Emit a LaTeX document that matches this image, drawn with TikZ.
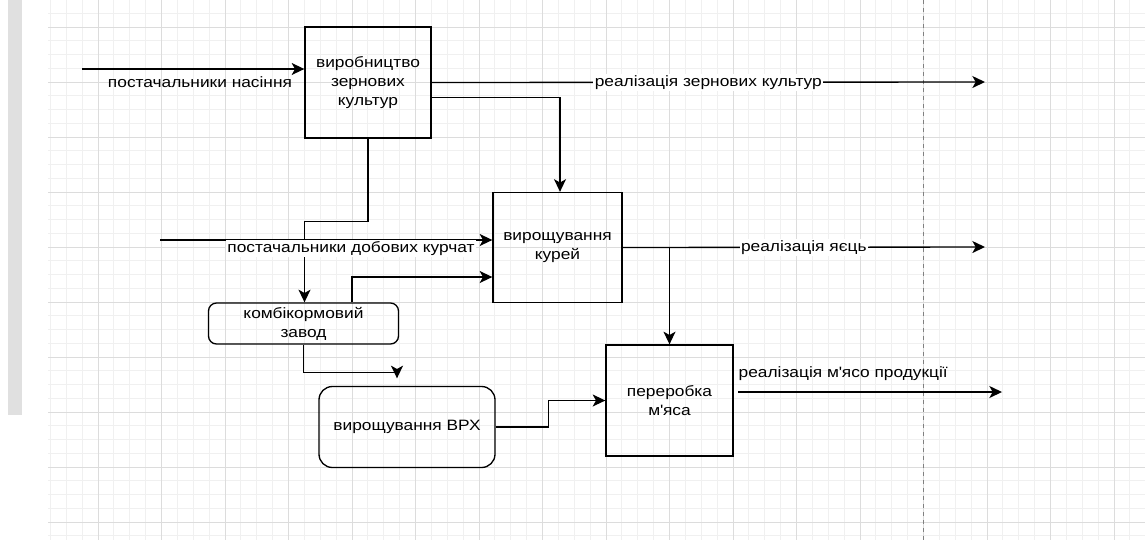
\documentclass[tikz,border=0pt]{standalone}
\usepackage{fontspec}
\setmainfont{Liberation Sans}[FakeStretch=1.155]
\usetikzlibrary{arrows.meta,calc}
\definecolor{gridmajor}{RGB}{220,220,220}
\definecolor{gridminor}{RGB}{240,240,240}
\tikzstyle{block}=[draw,rectangle,align=center,inner sep=2pt]

\begin{document}
\begin{tikzpicture}[x=0.75pt,y=-0.75pt,line width=1pt,
  font=\fontsize{11.25}{14.25}\selectfont]
\tikzstyle{plant}=[block,rounded corners=6pt]
\tikzstyle{flow}=[draw,-{Stealth[length=9.5pt,width=9pt,inset=2.5pt]}]
\tikzstyle{lbl}=[fill=white,inner sep=1pt]
\useasboundingbox (0,0) rectangle (1145,540);
% background grid
\begin{scope}
  \clip (48,0) rectangle (1145,540);
  \foreach \i in {0,...,70}
    \draw[gridminor,line width=0.75pt] ({34.5+15.875*\i},0) -- ++(0,540);
  \foreach \j in {0,...,42}
    \draw[gridminor,line width=0.75pt] (48,{-28+13.75*\j}) -- ++(1100,0);
  \foreach \i in {0,...,17}
    \draw[gridmajor,line width=0.75pt] ({34.5+63.5*\i},0) -- ++(0,540);
  \foreach \j in {0,...,10}
    \draw[gridmajor,line width=0.75pt] (48,{-28+55*\j}) -- ++(1100,0);
\end{scope}
\draw[gray,dashed,line width=0.75pt] (923.5,0) -- (923.5,540);
\fill[black!12] (8,0) rectangle (22,415);

% blocks
\node[block,minimum width=94.5pt,minimum height=83.25pt] (grain) at (368,82.5)
  {виробництво\\зернових\\культур};
\node[block,minimum width=96.75pt,minimum height=82.5pt] (chick) at (557.5,247.5)
  {вирощування\\курей};
\node[block,minimum width=95.25pt,minimum height=83.25pt] (meat) at (669.5,400.5)
  {переробка\\м\textquotesingle яса};
\node[plant,minimum width=142.5pt,minimum height=30.75pt] (mill) at (303.5,323.5)
  {комбікормовий\\завод};
\node[plant,rounded corners=10pt,minimum width=132pt,minimum height=60.75pt]
  (cattle) at (407,427) {вирощування ВРХ};

% free ends
\coordinate (seeds) at (82,69);
\coordinate (grainsale) at (985,82);
\coordinate (chicks) at (160,240);
\coordinate (eggsale) at (985,247);
\coordinate (meatout) at (738,392);
\coordinate (meatsale) at (1002,392);
\coordinate (fork) at (meat.north |- chick.east);

% connectors
\draw[flow] (seeds) -- (seeds -| grain.west);
\node (seedlbl) at (200,82.5) {постачальники насіння};
\draw[flow] (grain.east) -- (grainsale)
  node[lbl,pos=0.5] (grainlbl) {реалізація зернових культур};
\draw[flow] ($(grain.east)+(0,15)$) -| ($(chick.north)+(2.5,0)$);
\draw[flow] (grain.south) -- ++(0,83) -| ($(mill.north)+(1,0)$);
\draw[flow] (chicks) -- (chicks -| chick.west);
\node[lbl] (chicklbl) at (351,248.5) {постачальники добових курчат};
\draw[flow] ($(mill.north)+(48.5,0)$) |- ($(chick.west)+(0,29.5)$);
\draw[flow] (chick.east) -- (eggsale)
  node[lbl,pos=0.5] (egglbl) {реалізація яєць};
\draw[flow] (fork) -- (meat.north);
\draw[flow] (meatout) -- (meatsale);
\node[anchor=west,inner sep=0pt] (meatlbl) at (738,374)
  {реалізація м\textquotesingle ясо продукції};
\draw[flow] (mill.south) -- ++(0,27.5) -| ($(cattle.north)+(-10,-7.5)$);
\draw[flow] (cattle.east) -- ++(53,0) |- (meat.west);
\end{tikzpicture}
\end{document}
